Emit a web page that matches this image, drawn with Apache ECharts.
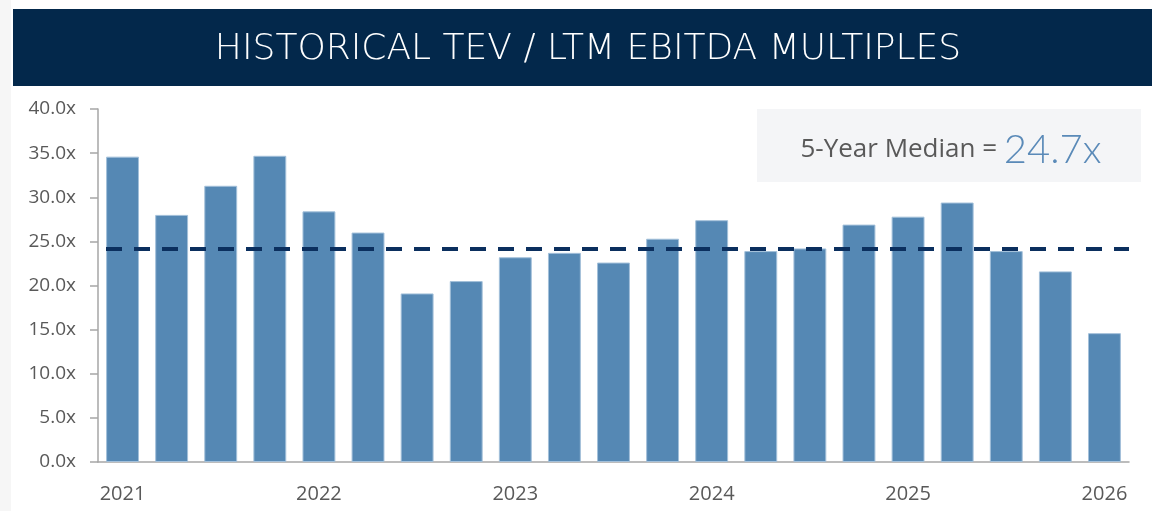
<!DOCTYPE html>
<html>
<head>
<meta charset="utf-8">
<script src="https://cdn.jsdelivr.net/npm/echarts@6/dist/echarts.min.js"></script>
<style>
  html, body { margin: 0; padding: 0; background: #fff; }
  #main { width: 1152px; height: 511px; }
</style>
</head>
<body>
<div id="main"></div>
<script>
var quarters = ['2021 Q1', '2021 Q2', '2021 Q3', '2021 Q4',
                '2022 Q1', '2022 Q2', '2022 Q3', '2022 Q4',
                '2023 Q1', '2023 Q2', '2023 Q3', '2023 Q4',
                '2024 Q1', '2024 Q2', '2024 Q3', '2024 Q4',
                '2025 Q1', '2025 Q2', '2025 Q3', '2025 Q4',
                '2026 Q1'];
var multiples = [34.6, 28.0, 31.3, 34.7, 28.4, 26.0, 19.1, 20.5, 23.2, 23.7, 22.6,
                 25.3, 27.4, 23.9, 24.2, 26.9, 27.8, 29.4, 23.9, 21.6, 14.6];
var medianLevel = 24.2;
var medianText = '24.7x';
var chartTitle = 'HISTORICAL TEV / LTM EBITDA MULTIPLES';

var myChart = echarts.init(document.getElementById('main'));

var option = {
    animation: false,
    grid: { left: 98, right: 23, top: 109, bottom: 49 },
    graphic: [
        { type: 'rect', shape: { x: 0, y: 0, width: 11, height: 511 }, style: { fill: '#f6f6f6' }, z: -1 },
        { type: 'rect', shape: { x: 13, y: 9, width: 1139, height: 77 }, style: { fill: '#03284b' } },
        {
            type: 'text', x: 588, y: 50,
            style: {
                text: chartTitle, fill: '#ffffff', align: 'center', verticalAlign: 'middle',
                font: '200 36px "DejaVu Sans", sans-serif'
            }
        },
        { type: 'rect', shape: { x: 757, y: 109, width: 384, height: 73 }, style: { fill: '#f4f5f7' } },
        {
            type: 'text', x: 951, y: 150,
            style: {
                text: '{a|5-Year Median = }{b|' + medianText + '}',
                align: 'center', verticalAlign: 'middle',
                rich: {
                    a: { font: '26px "Open Sans", "Noto Sans", sans-serif', fill: '#595959' },
                    b: { font: '300 40px Lato, "Open Sans", sans-serif', fill: '#5a8ab8' }
                }
            }
        }
    ],
    xAxis: {
        type: 'category',
        data: quarters,
        axisLine: { lineStyle: { color: '#a6a6a6', width: 1.5 } },
        axisTick: { show: false },
        axisLabel: {
            interval: 3,
            margin: 22,
            color: '#595959',
            fontFamily: '"Open Sans", "Noto Sans", sans-serif',
            fontSize: 20,
            formatter: function (v) { return v.slice(0, 4); }
        }
    },
    yAxis: {
        type: 'value',
        min: 0, max: 40, interval: 5,
        axisLine: { show: true, lineStyle: { color: '#a6a6a6', width: 1.5 } },
        axisTick: { show: true, length: 8, lineStyle: { color: '#a6a6a6', width: 1.5 } },
        splitLine: { show: false },
        axisLabel: {
            margin: 22,
            color: '#595959',
            fontFamily: '"Open Sans", "Noto Sans", sans-serif',
            fontSize: 19,
            formatter: function (v) { return v.toFixed(1) + 'x'; }
        }
    },
    series: [{
        type: 'bar',
        data: multiples,
        barCategoryGap: '33%',
        itemStyle: { color: '#5588b4', borderColor: '#a3c0da', borderWidth: 1 },
        markLine: {
            silent: true,
            symbol: 'none',
            label: { show: false },
            lineStyle: { color: '#0b2f5e', width: 4, type: [16, 12], dashOffset: 20 },
            data: [{ yAxis: medianLevel }]
        }
    }]
};

myChart.setOption(option);
</script>
</body>
</html>
